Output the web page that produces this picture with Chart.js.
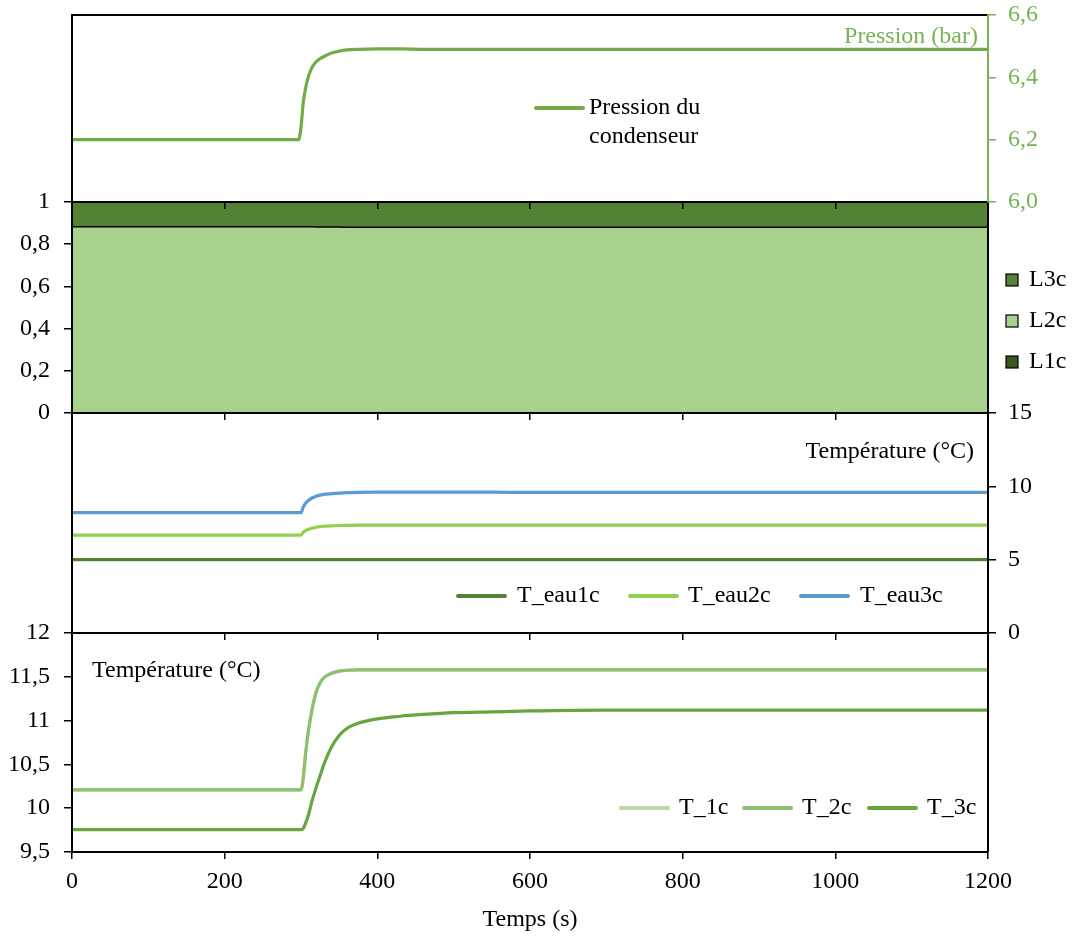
<!DOCTYPE html>
<html>
<head>
<meta charset="utf-8">
<script src="https://cdn.jsdelivr.net/npm/chart.js@4.4.0/dist/chart.umd.min.js"></script>
<style>
html, body { margin: 0; padding: 0; background: #fff; }
#wrap { position: relative; width: 1074px; height: 940px; }
#wrap canvas { position: absolute; left: 0; top: 0; }
</style>
</head>
<body>
<div id="wrap">
  <canvas id="areaChart" width="1074" height="940"></canvas>
  <canvas id="tempChart" width="1074" height="940"></canvas>
  <canvas id="waterChart" width="1074" height="940"></canvas>
  <canvas id="pressChart" width="1074" height="940"></canvas>
</div>
<script>
// time (s), shared by every series
const times = [0, 297, 300, 303, 306, 310, 315, 320, 325, 330, 340, 350, 360, 375, 400, 430, 460, 500, 550, 600, 700, 800, 1000, 1200];

// condenser pressure (bar)
const pression = [6.20, 6.20, 6.24, 6.32, 6.365, 6.405, 6.435, 6.45, 6.46, 6.467, 6.478, 6.484, 6.488, 6.49, 6.491, 6.491, 6.49, 6.49, 6.49, 6.49, 6.49, 6.49, 6.49, 6.49];

// zone lengths (fraction)
const L1c = [0, 0, 0, 0, 0, 0, 0, 0, 0, 0, 0, 0, 0, 0, 0, 0, 0, 0, 0, 0, 0, 0, 0, 0];
const L2c = [0.883, 0.883, 0.883, 0.883, 0.883, 0.883, 0.883, 0.882, 0.882, 0.882, 0.881, 0.881, 0.880, 0.880, 0.880, 0.880, 0.880, 0.880, 0.880, 0.880, 0.880, 0.880, 0.880, 0.880];
const L3c = [0.117, 0.117, 0.117, 0.117, 0.117, 0.117, 0.117, 0.118, 0.118, 0.118, 0.119, 0.119, 0.120, 0.120, 0.120, 0.120, 0.120, 0.120, 0.120, 0.120, 0.120, 0.120, 0.120, 0.120];

// water temperatures (°C)
const T_eau1c = [5, 5, 5, 5, 5, 5, 5, 5, 5, 5, 5, 5, 5, 5, 5, 5, 5, 5, 5, 5, 5, 5, 5, 5];
const T_eau2c = [6.68, 6.68, 6.68, 6.88, 6.98, 7.07, 7.15, 7.21, 7.25, 7.28, 7.31, 7.33, 7.34, 7.35, 7.35, 7.35, 7.35, 7.35, 7.35, 7.35, 7.35, 7.35, 7.35, 7.35];
const T_eau3c = [8.21, 8.21, 8.21, 8.60, 8.85, 9.05, 9.22, 9.33, 9.40, 9.45, 9.50, 9.54, 9.57, 9.59, 9.60, 9.60, 9.60, 9.60, 9.60, 9.59, 9.59, 9.59, 9.59, 9.59];

// refrigerant temperatures (°C)
const T_1c = [10.21, 10.21, 10.21, 10.35, 10.62, 10.90, 11.15, 11.33, 11.43, 11.49, 11.54, 11.565, 11.575, 11.58, 11.58, 11.58, 11.58, 11.58, 11.58, 11.58, 11.58, 11.58, 11.58, 11.58];
const T_2c = [10.21, 10.21, 10.21, 10.35, 10.62, 10.90, 11.15, 11.33, 11.43, 11.49, 11.54, 11.565, 11.575, 11.58, 11.58, 11.58, 11.58, 11.58, 11.58, 11.58, 11.58, 11.58, 11.58, 11.58];
const T_3c = [9.755, 9.755, 9.755, 9.77, 9.83, 9.93, 10.10, 10.24, 10.37, 10.50, 10.70, 10.83, 10.91, 10.97, 11.02, 11.05, 11.07, 11.09, 11.10, 11.11, 11.12, 11.12, 11.12, 11.12];

const xTicks = [0, 200, 400, 600, 800, 1000, 1200];

const FONT = '"Liberation Serif", "Times New Roman", serif';
const FS = 24;

function pts(values) {
    return times.map((t, i) => ({ x: t, y: values[i] }));
}

function fr(v) {
    return String(Math.round(v * 10) / 10).replace('.', ',');
}

// frame sides, text labels and legends drawn on the canvas
const panelExtras = {
    id: 'panelExtras',
    afterDatasetsDraw(chart, args, opts) {
        const ctx = chart.ctx, a = chart.chartArea;
        ctx.save();
        ctx.strokeStyle = '#000';
        ctx.lineWidth = 2;
        (opts.sides || []).forEach(s => {
            ctx.beginPath();
            if (s === 'top') { ctx.moveTo(a.left - 1, a.top); ctx.lineTo(a.right, a.top); }
            if (s === 'left') { ctx.moveTo(a.left, a.top); ctx.lineTo(a.left, a.bottom); }
            if (s === 'right') { ctx.moveTo(a.right, a.top); ctx.lineTo(a.right, a.bottom); }
            ctx.stroke();
        });
        ctx.font = FS + 'px ' + FONT;
        ctx.textBaseline = 'middle';
        (opts.texts || []).forEach(t => {
            ctx.fillStyle = t.color || '#000';
            ctx.textAlign = t.align || 'left';
            ctx.fillText(t.text, t.x, t.y);
        });
        ctx.textAlign = 'left';
        (opts.legend || []).forEach(it => {
            const ds = chart.data.datasets[it.index];
            if (it.box) {
                ctx.fillStyle = ds.backgroundColor;
                ctx.fillRect(it.x, it.y - 6, 12, 12);
                ctx.lineWidth = 1.2;
                ctx.strokeStyle = '#000';
                ctx.strokeRect(it.x, it.y - 6, 12, 12);
            } else {
                ctx.strokeStyle = ds.borderColor;
                ctx.lineWidth = 4;
                ctx.lineCap = 'round';
                ctx.beginPath();
                ctx.moveTo(it.x, it.y);
                ctx.lineTo(it.x + 47, it.y);
                ctx.stroke();
            }
            let lines = [ds.label];
            if (it.breakAfter) {
                const w = ds.label.split(' ');
                lines = [w.slice(0, it.breakAfter).join(' '), w.slice(it.breakAfter).join(' ')];
            }
            ctx.fillStyle = '#000';
            lines.forEach((l, k) => ctx.fillText(l, it.tx, it.y + k * 29));
        });
        ctx.restore();
    }
};

function xScale(bottom) {
    return {
        type: 'linear', min: 0, max: 1200,
        afterBuildTicks: s => { s.ticks = xTicks.map(v => ({ value: v })); },
        ticks: { display: bottom, color: '#000', font: { family: FONT, size: FS }, padding: 8, maxRotation: 0, callback: v => String(v) },
        grid: { drawOnChartArea: false, tickLength: 7, color: '#000', lineWidth: 1.5 },
        border: { color: '#000', width: 2, z: 1 },
        title: { display: bottom, text: 'Temps (s)', color: '#000', font: { family: FONT, size: FS }, padding: { top: 0, bottom: 6 } },
        afterFit: s => { s.height = bottom ? 88 : 0; }
    };
}

function yScale(pos, min, max, step, color, fmt) {
    return {
        position: pos, min: min, max: max,
        ticks: { stepSize: step, color: color, font: { family: FONT, size: FS }, padding: pos === 'left' ? 14 : 12, callback: fmt },
        grid: { drawOnChartArea: false, tickLength: 8, color: color, lineWidth: 1.5 },
        border: { color: color, width: 2, z: 1 },
        afterFit: s => {
            s.width = pos === 'left' ? 72 : 86;
            s.paddingTop = 0;
            s.paddingBottom = 0;
        }
    };
}

function lineSet(label, values, color, order) {
    return {
        label: label, data: pts(values), borderColor: color, backgroundColor: color,
        borderWidth: 3.2, pointRadius: 0, fill: false, cubicInterpolationMode: 'monotone', order: order || 0
    };
}

const base = {
    responsive: false, animation: false, devicePixelRatio: 1,
    plugins: { legend: { display: false }, tooltip: { enabled: false } }
};

// Panel 2: stacked areas
new Chart(document.getElementById('areaChart'), {
    type: 'line',
    data: {
        datasets: [
            { label: 'L1c', data: pts(L1c), backgroundColor: '#385723', borderColor: '#000', borderWidth: 1.5, pointRadius: 0, fill: 'origin' },
            { label: 'L2c', data: pts(L2c), backgroundColor: '#A9D18E', borderColor: '#000', borderWidth: 1.5, pointRadius: 0, fill: '-1' },
            { label: 'L3c', data: pts(L3c), backgroundColor: '#548235', borderColor: '#000', borderWidth: 1.5, pointRadius: 0, fill: '-1' }
        ]
    },
    options: Object.assign({}, base, {
        layout: { padding: { top: 202, bottom: 527, left: 0, right: 86 } },
        scales: {
            x: xScale(false),
            y: Object.assign(yScale('left', 0, 1, 0.2, '#000', v => fr(v)), { stacked: true })
        },
        plugins: Object.assign({}, base.plugins, {
            panelExtras: {
                sides: ['right'],
                legend: [
                    { index: 2, box: true, x: 1006, y: 280, tx: 1029 },
                    { index: 1, box: true, x: 1006, y: 321, tx: 1029 },
                    { index: 0, box: true, x: 1006, y: 362, tx: 1029 }
                ]
            }
        })
    }),
    plugins: [panelExtras]
});

// Panel 4: refrigerant temperatures
new Chart(document.getElementById('tempChart'), {
    type: 'line',
    data: {
        datasets: [
            lineSet('T_1c', T_1c, '#B9DAA3', 2),
            lineSet('T_2c', T_2c, '#8FBF70', 1),
            lineSet('T_3c', T_3c, '#68A53F', 0)
        ]
    },
    options: Object.assign({}, base, {
        layout: { padding: { top: 633, bottom: 0, left: 0, right: 86 } },
        scales: {
            x: xScale(true),
            y: yScale('left', 9.5, 12, 0.5, '#000', v => fr(v))
        },
        plugins: Object.assign({}, base.plugins, {
            panelExtras: {
                sides: ['right'],
                texts: [{ text: 'Température (°C)', x: 92, y: 671 }],
                legend: [
                    { index: 0, x: 621, y: 808, tx: 679 },
                    { index: 1, x: 744, y: 808, tx: 802 },
                    { index: 2, x: 869, y: 808, tx: 927 }
                ]
            }
        })
    }),
    plugins: [panelExtras]
});

// Panel 3: water temperatures
new Chart(document.getElementById('waterChart'), {
    type: 'line',
    data: {
        datasets: [
            lineSet('T_eau1c', T_eau1c, '#548235'),
            lineSet('T_eau2c', T_eau2c, '#92D050'),
            lineSet('T_eau3c', T_eau3c, '#5B9BD5')
        ]
    },
    options: Object.assign({}, base, {
        layout: { padding: { top: 413, bottom: 307, left: 72, right: 0 } },
        scales: {
            x: xScale(false),
            y: yScale('right', 0, 15, 5, '#000', v => fr(v))
        },
        plugins: Object.assign({}, base.plugins, {
            panelExtras: {
                sides: ['left'],
                texts: [{ text: 'Température (°C)', x: 974, y: 452, align: 'right' }],
                legend: [
                    { index: 0, x: 458, y: 596, tx: 517 },
                    { index: 1, x: 630, y: 596, tx: 688 },
                    { index: 2, x: 801, y: 596, tx: 860 }
                ]
            }
        })
    }),
    plugins: [panelExtras]
});

// Panel 1: condenser pressure
new Chart(document.getElementById('pressChart'), {
    type: 'line',
    data: {
        datasets: [lineSet('Pression du condenseur', pression, '#70AD47')]
    },
    options: Object.assign({}, base, {
        layout: { padding: { top: 15, bottom: 738, left: 72, right: 0 } },
        scales: {
            x: xScale(false),
            y: yScale('right', 6.0, 6.6, 0.2, '#77B356', v => v.toFixed(1).replace('.', ','))
        },
        plugins: Object.assign({}, base.plugins, {
            panelExtras: {
                sides: ['top', 'left'],
                texts: [{ text: 'Pression (bar)', x: 978, y: 37, align: 'right', color: '#77B356' }],
                legend: [{ index: 0, x: 536, y: 108, tx: 589, breakAfter: 2 }]
            }
        })
    }),
    plugins: [panelExtras]
});
</script>
</body>
</html>
